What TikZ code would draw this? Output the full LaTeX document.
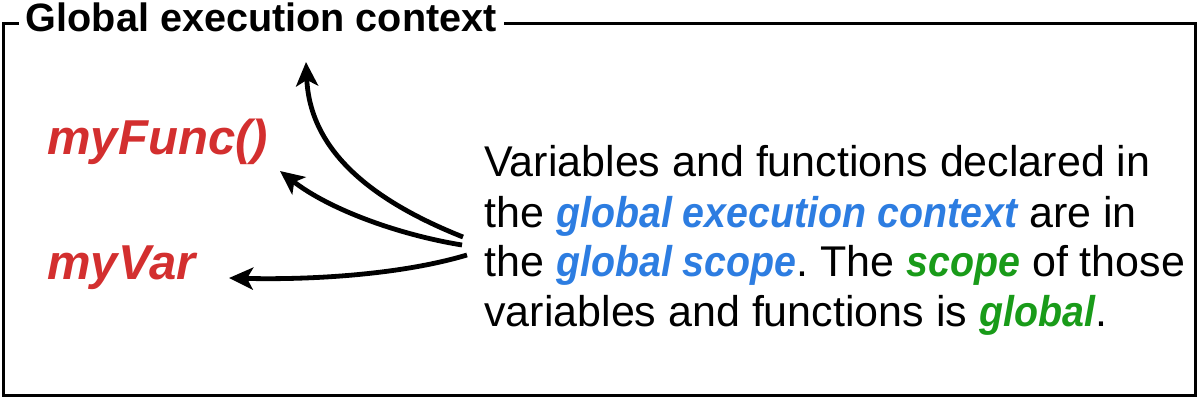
\documentclass[tikz,border=0pt]{standalone}
\usepackage{fontspec}
\setmainfont{Liberation Sans}
\newfontfamily\bifont{Liberation Sans}[FakeStretch=0.915]
\usetikzlibrary{arrows.meta}
\definecolor{myred}{RGB}{211,47,47}
\definecolor{myblue}{RGB}{45,125,225}
\definecolor{mygreen}{RGB}{25,155,25}
\newcommand{\hb}[1]{\textcolor{myblue}{\bifont\bfseries\itshape #1}}
\newcommand{\hg}[1]{\textcolor{mygreen}{\bifont\bfseries\itshape #1}}
\tikzset{
  frame/.style={draw=black, line width=1.5pt},
  title/.style={fill=white, inner xsep=3.5pt, inner ysep=0pt, anchor=base west, font=\fontsize{19.8}{24}\selectfont\bfseries},
  label/.style={inner sep=0pt, anchor=base west, text=myred, font=\fontsize{24.5}{28}\selectfont\bfseries\itshape},
  body/.style={inner sep=0pt, anchor=base west, font=\fontsize{21.5}{25}\selectfont\frenchspacing},
  arr/.style={line width=2.4pt, -{Stealth[length=12pt,width=11pt,inset=3pt]}}
}
\begin{document}
\begin{tikzpicture}[x=0.5pt,y=-0.5pt]
\useasboundingbox (0,0) rectangle (1200,400);
\draw[frame] (3,24) rectangle (1195,396);
\node[title] (t) at (18.5,32) {Global execution context};
\node[label] (func) at (47,155) {myFunc()};
\node[label] (var) at (47,280) {myVar};
\node[body] (l1) at (484,177) {Variables and functions declared in};
\node[body] (l2) at (484,228) {the \hb{global execution context} are in};
\node[body] (l3) at (484,277) {the \hb{global scope}. The \hg{scope} of those};
\node[body] (l4) at (484,327) {variables and functions is \hg{global}.};
\coordinate (s1) at (463,237);
\coordinate (s2) at (462,245);
\coordinate (s3) at (467,255);
\coordinate (e1) at (306,62);
\coordinate (e2) at (280,171);
\coordinate (e3) at (229,278);
\draw[arr] (s1) .. controls (370,200) and (310,150) .. (e1);
\draw[arr] (s2) .. controls (400,235) and (330,210) .. (e2);
\draw[arr] (s3) .. controls (400,275) and (310,280) .. (e3);
\end{tikzpicture}
\end{document}
